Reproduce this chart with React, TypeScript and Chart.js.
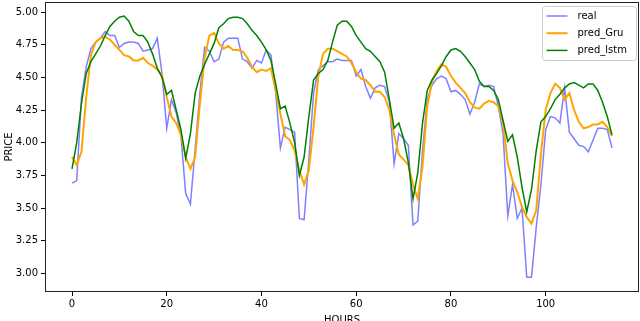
import React, { useEffect, useRef } from 'react';
import { Chart, registerables } from 'chart.js';

Chart.register(...registerables);

const real: number[] = [
  3.69, 3.71, 4.35, 4.58, 4.72, 4.77, 4.80, 4.85, 4.82, 4.82,
  4.73, 4.76, 4.77, 4.77, 4.76, 4.70, 4.71, 4.72, 4.80, 4.53,
  4.11, 4.33, 4.23, 4.05, 3.61, 3.53, 3.95, 4.38, 4.73, 4.70,
  4.62, 4.64, 4.77, 4.80, 4.80, 4.80, 4.64, 4.62, 4.57, 4.63,
  4.61, 4.71, 4.67, 4.38, 3.96, 4.12, 4.10, 4.08, 3.42, 3.41,
  3.87, 4.38, 4.56, 4.59, 4.62, 4.62, 4.64, 4.63, 4.63, 4.63,
  4.51, 4.56, 4.43, 4.34, 4.42, 4.44, 4.43, 4.31, 3.84, 4.07,
  4.03, 3.98, 3.37, 3.40, 3.94, 4.33, 4.44, 4.49, 4.51, 4.49,
  4.39, 4.40, 4.37, 4.33, 4.22, 4.31, 4.45, 4.43, 4.44, 4.43,
  4.28, 4.07, 3.44, 3.68, 3.42, 3.50, 2.97, 2.97, 3.35, 3.68,
  4.10, 4.20, 4.19, 4.15, 4.42, 4.08, 4.03, 3.98, 3.97, 3.93,
  4.02, 4.11, 4.11, 4.10, 3.96,
];

const predGru: number[] = [
  3.89, 3.83, 3.93, 4.35, 4.67, 4.77, 4.80, 4.81, 4.79, 4.75,
  4.71, 4.67, 4.66, 4.63, 4.63, 4.65, 4.61, 4.59, 4.56, 4.52,
  4.35, 4.20, 4.15, 4.06, 3.89, 3.80, 3.89, 4.30, 4.65, 4.82,
  4.84, 4.76, 4.72, 4.74, 4.71, 4.71, 4.70, 4.65, 4.58, 4.54,
  4.56, 4.55, 4.57, 4.40, 4.22, 4.05, 4.02, 3.94, 3.79, 3.68,
  3.79, 4.12, 4.51, 4.68, 4.72, 4.72, 4.70, 4.68, 4.66, 4.61,
  4.54, 4.49, 4.48, 4.44, 4.39, 4.39, 4.35, 4.25, 4.06, 3.91,
  3.87, 3.83, 3.68, 3.57, 3.82, 4.28, 4.47, 4.55, 4.60, 4.58,
  4.51, 4.46, 4.42, 4.38, 4.31, 4.27, 4.26, 4.30, 4.32, 4.31,
  4.28, 4.15, 3.84, 3.71, 3.62, 3.51, 3.43, 3.38, 3.48, 3.92,
  4.25, 4.38, 4.45, 4.42, 4.33, 4.38, 4.25, 4.16, 4.11, 4.12,
  4.14, 4.14, 4.16, 4.12, 4.05,
];

const predLstm: number[] = [
  3.80, 4.00, 4.30, 4.53, 4.62, 4.68, 4.74, 4.82, 4.89, 4.93,
  4.96, 4.97, 4.93, 4.85, 4.82, 4.82, 4.77, 4.68, 4.57, 4.50,
  4.37, 4.40, 4.25, 4.10, 3.88, 4.07, 4.38, 4.51, 4.60, 4.68,
  4.76, 4.88, 4.91, 4.95, 4.96, 4.96, 4.95, 4.91, 4.86, 4.82,
  4.77, 4.71, 4.63, 4.45, 4.26, 4.28, 4.15, 4.00, 3.75, 3.89,
  4.20, 4.48, 4.53, 4.56, 4.63, 4.77, 4.90, 4.93, 4.93, 4.89,
  4.82, 4.77, 4.72, 4.70, 4.66, 4.62, 4.54, 4.33, 4.11, 4.15,
  4.03, 3.85, 3.57, 3.77, 4.15, 4.40, 4.48, 4.53, 4.59, 4.66,
  4.71, 4.72, 4.70, 4.66, 4.61, 4.56, 4.47, 4.43, 4.43, 4.40,
  4.33, 4.17, 4.01, 4.06, 3.89, 3.66, 3.47, 3.64, 3.94, 4.16,
  4.20, 4.26, 4.33, 4.37, 4.42, 4.45, 4.46, 4.44, 4.42, 4.45,
  4.45, 4.40, 4.31, 4.20, 4.06,
];

const xTickValues: number[] = [0, 20, 40, 60, 80, 100];
const yTickValues: number[] = [3.0, 3.25, 3.5, 3.75, 4.0, 4.25, 4.5, 4.75, 5.0];

const seriesNames: string[] = ['real', 'pred_Gru', 'pred_lstm'];
const seriesColors: string[] = ['rgba(0,0,255,0.5)', '#ffa500', '#008000'];
const seriesWidths: number[] = [1.5, 2, 1.5];

const FONT = 'DejaVu Sans';

const framePlugin = {
  id: 'mplFrame',
  afterDatasetsDraw(chart: any) {
    const { ctx, chartArea } = chart;
    ctx.save();
    ctx.strokeStyle = '#222';
    ctx.lineWidth = 1;
    ctx.strokeRect(
      chartArea.left + 0.5,
      chartArea.top + 0.5,
      chartArea.right - chartArea.left - 1,
      chartArea.bottom - chartArea.top - 1
    );
    ctx.restore();
  },
};

const legendPlugin = {
  id: 'mplLegend',
  afterDraw(chart: any) {
    const { ctx, chartArea } = chart;
    const w = 94;
    const h = 54;
    const x = chartArea.right - w - 2.5;
    const y = chartArea.top + 4.5;
    const r = 3;
    ctx.save();
    ctx.beginPath();
    ctx.moveTo(x + r, y);
    ctx.lineTo(x + w - r, y);
    ctx.quadraticCurveTo(x + w, y, x + w, y + r);
    ctx.lineTo(x + w, y + h - r);
    ctx.quadraticCurveTo(x + w, y + h, x + w - r, y + h);
    ctx.lineTo(x + r, y + h);
    ctx.quadraticCurveTo(x, y + h, x, y + h - r);
    ctx.lineTo(x, y + r);
    ctx.quadraticCurveTo(x, y, x + r, y);
    ctx.closePath();
    ctx.fillStyle = 'rgba(255,255,255,0.8)';
    ctx.fill();
    ctx.strokeStyle = '#cccccc';
    ctx.lineWidth = 1;
    ctx.stroke();
    ctx.font = `10px "${FONT}"`;
    ctx.textBaseline = 'middle';
    ctx.textAlign = 'left';
    seriesNames.forEach((name, i) => {
      const ly = y + 9.5 + i * 17.2;
      ctx.beginPath();
      ctx.strokeStyle = seriesColors[i];
      ctx.lineWidth = seriesWidths[i];
      ctx.moveTo(x + 4, ly);
      ctx.lineTo(x + 25, ly);
      ctx.stroke();
      ctx.fillStyle = '#000';
      ctx.fillText(name, x + 35, ly);
    });
    ctx.restore();
  },
};

export default function App() {
  const canvasRef = useRef<HTMLCanvasElement | null>(null);

  useEffect(() => {
    if (!canvasRef.current) return;
    const datasets = [real, predGru, predLstm].map((arr, i) => ({
      label: seriesNames[i],
      data: arr.map((v, k) => ({ x: k, y: v })),
      borderColor: seriesColors[i],
      backgroundColor: seriesColors[i],
      borderWidth: seriesWidths[i],
      pointRadius: 0,
      tension: 0,
      fill: false,
      order: 3 - i,
    }));
    const tickFont = { family: FONT, size: 10 };
    const chart = new Chart(canvasRef.current, {
      type: 'line',
      data: { datasets },
      options: {
        animation: false,
        responsive: false,
        devicePixelRatio: 1,
        layout: { padding: { top: 2, right: 1, left: 0, bottom: 0 } },
        plugins: {
          legend: { display: false },
          tooltip: { enabled: false },
        },
        scales: {
          x: {
            type: 'linear',
            min: -5.7,
            max: 119.7,
            afterBuildTicks: (s: any) => {
              s.ticks = xTickValues.map((v) => ({ value: v }));
            },
            afterFit: (s: any) => {
              s.height = 29;
              s.paddingLeft = 0;
              s.paddingRight = 0;
            },
            ticks: {
              color: '#000',
              font: tickFont,
              padding: 2,
              maxRotation: 0,
              autoSkip: false,
              callback: (v: any) => String(v),
            },
            grid: {
              display: true,
              drawOnChartArea: false,
              drawTicks: true,
              tickLength: 4,
              color: '#000',
              lineWidth: 1,
            },
            border: { display: false },
            title: {
              display: true,
              text: 'HOURS',
              color: '#000',
              font: tickFont,
              padding: { top: 0, bottom: -5 },
            },
          },
          y: {
            type: 'linear',
            min: 2.857,
            max: 5.077,
            afterBuildTicks: (s: any) => {
              s.ticks = yTickValues.map((v) => ({ value: v }));
            },
            afterFit: (s: any) => {
              s.width = 45;
              s.paddingTop = 0;
              s.paddingBottom = 0;
            },
            ticks: {
              color: '#000',
              font: tickFont,
              padding: 3,
              autoSkip: false,
              callback: (v: any) => Number(v).toFixed(2),
            },
            grid: {
              display: true,
              drawOnChartArea: false,
              drawTicks: true,
              tickLength: 4,
              color: '#000',
              lineWidth: 1,
            },
            border: { display: false },
            title: {
              display: true,
              text: 'PRICE',
              color: '#000',
              font: tickFont,
              padding: { top: 3, bottom: 0 },
            },
          },
        },
      },
      plugins: [framePlugin, legendPlugin],
    });
    return () => chart.destroy();
  }, []);

  return (
    <div style={{ position: 'absolute', left: 0, top: 0, width: 640, height: 321, background: '#fff' }}>
      <canvas ref={canvasRef} width={640} height={321} style={{ display: 'block' }} />
    </div>
  );
}
